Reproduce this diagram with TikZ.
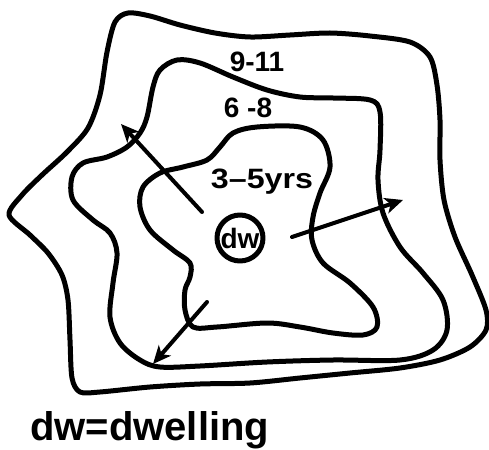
\documentclass[tikz,border=0pt]{standalone}
\usepackage{fontspec}
\setmainfont{Liberation Sans}
\usetikzlibrary{arrows.meta}
\begin{document}
\begin{tikzpicture}[x=1pt,y=-1pt,line cap=round,line join=round,
  zone/.style={draw,line width=5pt},
  arr/.style={line width=4pt,-{Stealth[length=18pt,width=16pt,inset=5pt]}},
  lbl/.style={inner sep=0pt,font=\fontsize{28}{28}\selectfont\bfseries}]
\useasboundingbox (0,0) rectangle (489,449);
% outer zone
\draw[zone] plot[smooth cycle,tension=0.5] coordinates {
 (9,215) (22,195) (42,175) (67,152) (88,128) (100,95) (107,52) (115,22) (128,13)
 (150,16) (180,25) (215,33) (250,37) (290,35) (330,33) (370,36) (410,42) (430,57)
 (437,85) (440,120) (440,160) (444,200) (455,237) (472,275) (486,310) (486,330)
 (470,347) (440,360) (400,368) (350,373) (300,378) (250,383) (200,384) (150,387)
 (100,392) (80,392) (72,378) (70,340) (68,300) (62,275) (48,253) (30,235)};
% middle zone
\draw[zone] plot[smooth cycle,tension=0.55] coordinates {
 (177,60) (200,63) (233,77) (267,90) (300,97) (333,98) (370,100) (380,112)
 (380,150) (378,180) (383,213) (400,247) (423,273) (443,300) (447,330) (433,350)
 (400,360) (333,360) (267,362) (200,366) (160,367) (140,360) (120,343) (110,317)
 (113,283) (117,253) (110,233) (93,220) (73,200) (72,177) (83,163) (107,157)
 (127,147) (140,133) (147,117) (153,87) (160,70)};
% inner zone
\draw[zone] plot[smooth cycle,tension=0.55] coordinates {
 (233,133) (257,127) (300,127) (323,140) (330,167) (320,193) (313,217) (312,240)
 (323,263) (350,283) (373,307) (377,327) (363,335) (333,333) (300,327) (267,323)
 (217,327) (193,327) (185,310) (185,290) (190,277) (190,263) (173,250) (150,230)
 (140,207) (143,187) (160,173) (183,167) (207,160) (220,147)};
% dwelling
\node[draw,circle,line width=5pt,minimum size=46pt,inner sep=0pt,
  font=\fontsize{28}{28}\selectfont\bfseries] (dw) at (240,238) {dw};
% labels
\node[lbl] (l911) at (257,62) {9-11};
\node[lbl] (l68) at (248,108) {6 -8};
\node[lbl,xscale=1.15] (l35) at (262,182) {3–5yrs};
\node[inner sep=0pt,anchor=base west,font=\fontsize{40}{40}\selectfont\bfseries] (legend) at (30,440) {dw=dwelling};
% arrows
\coordinate (a1s) at (202,212); \coordinate (a1e) at (121,124);
\coordinate (a2s) at (292,237); \coordinate (a2e) at (403,200);
\coordinate (a3s) at (207,302); \coordinate (a3e) at (153,364);
\draw[arr] (a1s) -- (a1e);
\draw[arr] (a2s) -- (a2e);
\draw[arr] (a3s) -- (a3e);
\end{tikzpicture}
\end{document}
